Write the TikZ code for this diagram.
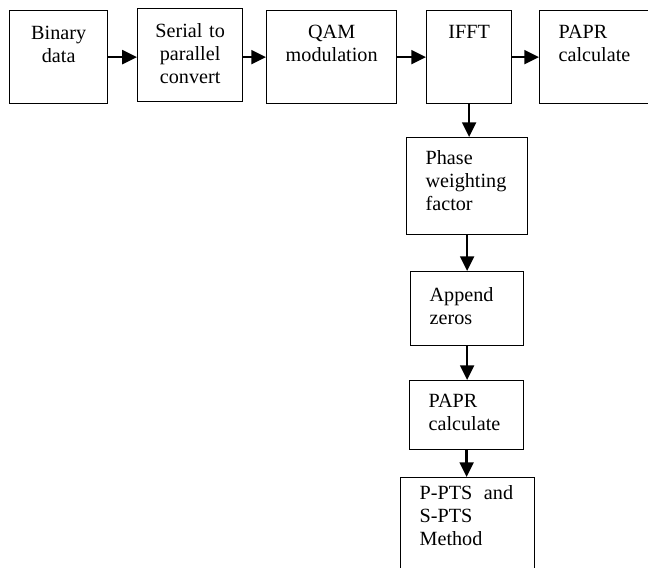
\documentclass[tikz,border=0pt]{standalone}
\usepackage{fontspec}
\setmainfont{Liberation Serif}
\usepackage{tikz}
\usetikzlibrary{arrows.meta}

\begin{document}
\begin{tikzpicture}[x=0.61pt,y=-0.61pt,
    box/.style={draw, line width=0.8pt, inner ysep=0pt, anchor=north west,
      font=\fontsize{12.3}{14}\selectfont},
    ctrbox/.style={box, align=center, inner xsep=0pt},
    lftbox/.style={box, align=left, inner xsep=11.6pt},
    arr/.style={-{Triangle[length=9pt,width=8.5pt]}, line width=1.5pt}]
  \useasboundingbox (0,0) rectangle (648,567);
  \clip (0,0) rectangle (648,567);

  % Top row of blocks
  \node[ctrbox, text width=59.8pt, text height=17.7pt, text depth=39pt] (bin) at (9,10) {Binary\\data};
  \node[ctrbox, text width=64pt, text height=17.5pt, text depth=39.2pt] (ser) at (137,8) {Serial to\\parallel\\convert};
  \node[ctrbox, text width=79.3pt, text height=17pt, text depth=39.7pt] (qam) at (266,10) {QAM\\modulation};
  \node[ctrbox, text width=51.8pt, text height=17pt, text depth=39.7pt] (ifft) at (426,10) {IFFT};
  \node[lftbox, text width=60pt, text height=17pt, text depth=39.7pt] (papr) at (539,10) {PAPR\\calculate};

  % Blocks going down from IFFT
  \node[lftbox, text width=50.6pt, text height=16.5pt, text depth=42.7pt] (phase) at (406,137) {Phase\\weighting\\factor};
  \node[lftbox, text width=45.7pt, text height=18.3pt, text depth=26.8pt] (app) at (410,271) {Append\\zeros};
  \node[lftbox, text width=46.3pt, text height=16.5pt, text depth=25.6pt] (paprb) at (409,380) {PAPR\\calculate};
  \node[lftbox, text width=58.5pt, text height=13.4pt, text depth=61.6pt] (pts) at (400,477) {P-PTS\hspace{3pt} and\\S-PTS\\Method};

  % Connectors
  \draw[arr] (bin.east) -- (bin.east -| ser.west);
  \draw[arr] (ser.east |- bin.east) -- (bin.east -| qam.west);
  \draw[arr] (qam.east |- bin.east) -- (bin.east -| ifft.west);
  \draw[arr] (ifft.east |- bin.east) -- (bin.east -| papr.west);
  \draw[arr] (ifft.south) -- (ifft.south |- phase.north);
  \draw[arr] (phase.south) -- (phase.south |- app.north);
  \draw[arr] (app.south) -- (app.south |- paprb.north);
  \draw[arr] (paprb.south) -- (paprb.south |- pts.north);
\end{tikzpicture}
\end{document}
